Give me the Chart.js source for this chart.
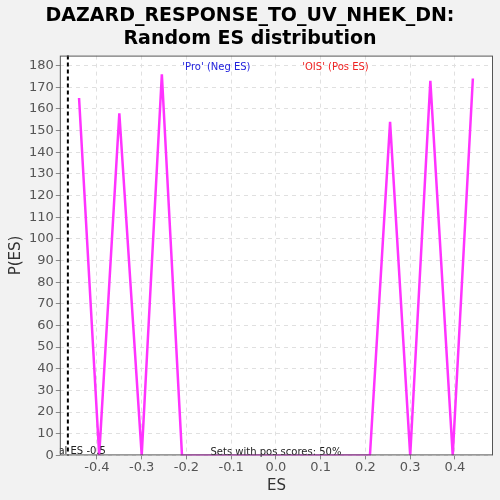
<!DOCTYPE html>
<html><head><meta charset="utf-8">
<script src="https://cdn.jsdelivr.net/npm/chart.js@4"></script>
<style>html,body{margin:0;padding:0;background:#f2f2f2;}#c{display:block;}</style>
</head><body>
<canvas id="c" width="500" height="500"></canvas>
<script>
const esValues = [-0.44, -0.395, -0.35, -0.3, -0.255, -0.21, 0.21, 0.255, 0.3, 0.345, 0.395, 0.44];
const probValues = [165, 0, 158, 0, 176, 0, 0, 154, 0, 173, 0, 174];
const xTicks = [-0.4, -0.3, -0.2, -0.1, 0.0, 0.1, 0.2, 0.3, 0.4];
const realES = -0.465;
const titleLines = ["DAZARD_RESPONSE_TO_UV_NHEK_DN:", "Random ES distribution"];

const pts = esValues.map((x, i) => ({x, y: probValues[i]}));

const deco = {
  id: 'deco',
  beforeDraw(chart) {
    const {ctx, chartArea: a} = chart;
    ctx.save();
    ctx.fillStyle = '#ffffff';
    ctx.fillRect(a.left, a.top, a.right - a.left, a.bottom - a.top);
    ctx.restore();
  },
  afterDatasetsDraw(chart) {
    const {ctx, chartArea: a, scales: {x, y}} = chart;
    ctx.save();
    const px = x.getPixelForValue(realES);
    ctx.strokeStyle = '#000';
    ctx.lineWidth = 2;
    ctx.setLineDash([4, 3]);
    ctx.beginPath(); ctx.moveTo(px, a.top); ctx.lineTo(px, a.bottom); ctx.stroke();
    ctx.setLineDash([]);
    ctx.font = '10px "DejaVu Sans", sans-serif';
    ctx.textBaseline = 'alphabetic';
    ctx.textAlign = 'center';
    ctx.fillStyle = '#2222dd';
    ctx.fillText("'Pro' (Neg ES)", x.getPixelForValue(-0.133), a.top + 14);
    ctx.fillStyle = '#ee2222';
    ctx.fillText("'OIS' (Pos ES)", x.getPixelForValue(0.133), a.top + 14);
    ctx.fillStyle = '#222';
    ctx.fillText("Sets with pos scores: 50%", x.getPixelForValue(0), a.bottom);
    ctx.beginPath(); ctx.rect(a.left, a.top, a.right - a.left, a.bottom - a.top); ctx.clip();
    ctx.textAlign = 'left';
    ctx.fillText("Real ES -0.5", a.left - 14, a.bottom - 1);
    ctx.restore();
    ctx.save();
    ctx.strokeStyle = '#555';
    ctx.lineWidth = 1;
    ctx.strokeRect(a.left + 0.5, a.top + 0.5, a.right - a.left - 1, a.bottom - a.top - 1);
    ctx.restore();
  }
};

new Chart(document.getElementById('c'), {
  type: 'line',
  data: { datasets: [{ data: pts, borderColor: '#ff33ff', borderWidth: 2.5, pointRadius: 0, tension: 0, fill: false }] },
  options: {
    responsive: false, animation: false,
    layout: { padding: { left: 7, right: 7, top: 0, bottom: 5 } },
    plugins: {
      legend: { display: false }, tooltip: { enabled: false },
      title: { display: true, text: titleLines, color: '#000', font: { family: '"DejaVu Sans", sans-serif', size: 19, weight: 'bold', lineHeight: 1.2 }, padding: { top: 5, bottom: 5 } }
    },
    scales: {
      x: {
        type: 'linear', min: -0.483, max: 0.485,
        afterBuildTicks(s) { s.ticks = xTicks.map(v => ({value: v})); },
        ticks: { color: '#555', font: { family: '"DejaVu Sans", sans-serif', size: 13 }, callback: v => (Math.abs(v) < 1e-9 ? '0.0' : v.toFixed(1)), padding: 0 },
        grid: { color: '#e0e0e0', tickLength: 4, tickColor: '#888' },
        border: { display: false, dash: [4, 4] },
        title: { display: true, text: 'ES', color: '#333', font: { family: '"DejaVu Sans", sans-serif', size: 15 }, padding: { top: 2, bottom: 0 } }
      },
      y: {
        min: 0, max: 184.6,
        afterBuildTicks(s) { const t = []; for (let v = 0; v <= 180; v += 10) t.push({value: v}); s.ticks = t; },
        ticks: { color: '#555', font: { family: '"DejaVu Sans", sans-serif', size: 13 }, padding: 2 },
        grid: { color: '#e0e0e0', tickLength: 4, tickColor: '#888' },
        border: { display: false, dash: [4, 4] },
        title: { display: true, text: 'P(ES)', color: '#333', font: { family: '"DejaVu Sans", sans-serif', size: 15 }, padding: { top: 0, bottom: 2 } }
      }
    }
  },
  plugins: [deco]
});
</script>
</body></html>
